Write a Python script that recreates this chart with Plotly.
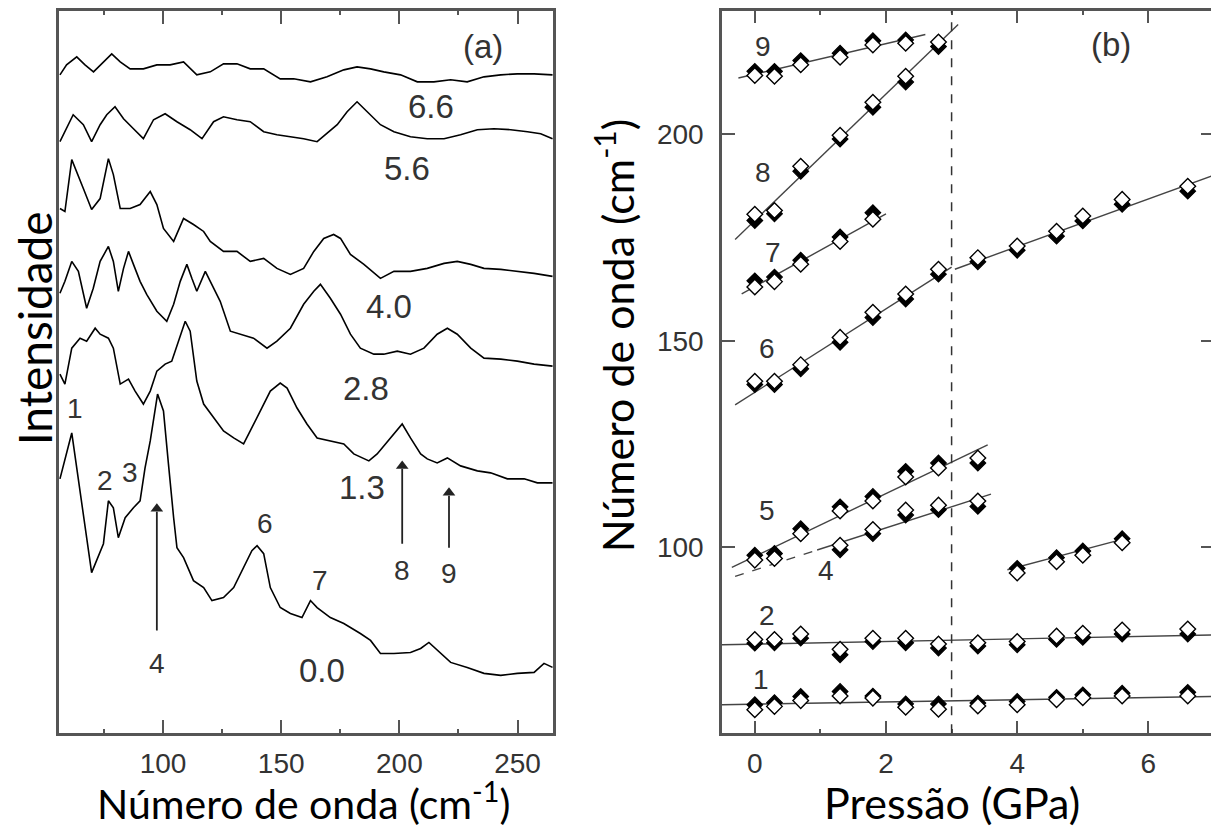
import plotly.graph_objects as go

# ---------------- Panel (a): Raman spectra ----------------
spec_labels = ["0.0", "1.3", "2.8", "4.0", "5.6", "6.6"]

w_00 = [56.4, 61.4, 69.8, 74.8, 76.9, 79.0, 81.1, 84.0, 87.5, 90.3, 92.4, 94.6, 97.7, 100.2, 102.3, 103.0,
        104.5, 105.9, 108.7, 112.9, 117.2, 120.7, 125.6, 129.9, 134.1, 137.6, 139.8, 142.6, 145.4, 149.6,
        153.9, 158.8, 162.4, 165.2, 170.8, 176.5, 183.5, 187.8, 192.0, 197.7, 204.7, 209.0, 212.5, 216.0,
        221.7, 228.7, 235.8, 242.9, 249.9, 257.0, 261.2, 264.8]
i_00 = [255, 301, 161, 190, 233, 226, 196, 216, 226, 233, 266, 293, 340, 323, 270, 250,
        216, 186, 176, 153, 146, 133, 136, 146, 166, 183, 188, 180, 146, 126,
        120, 116, 133, 126, 116, 110, 100, 93, 80, 80, 81, 85, 91, 83,
        71, 66, 60, 58, 60, 61, 70, 66]

w_13 = [56.4, 58.5, 61.4, 64.9, 67.7, 71.3, 73.4, 76.9, 79.0, 81.9, 85.4, 88.2, 91.7, 94.6, 97.4, 100.9,
        103.7, 106.6, 109.4, 111.5, 114.3, 117.2, 121.4, 125.6, 129.9, 134.1, 136.9, 141.2, 145.4, 149.6,
        152.5, 156.7, 160.9, 165.2, 170.8, 176.5, 180.7, 187.1, 190.6, 196.3, 201.2, 204.7, 209.0, 211.8,
        216.0, 220.3, 225.9, 233.0, 238.6, 245.7, 252.8, 258.4, 264.8]
i_13 = [360, 350, 386, 396, 393, 406, 400, 396, 386, 350, 355, 343, 330, 343, 363, 370,
        373, 393, 413, 403, 353, 330, 316, 303, 296, 290, 303, 323, 343, 351,
        346, 326, 310, 296, 293, 290, 280, 273, 280, 296, 310, 296, 280, 275,
        271, 276, 268, 263, 261, 255, 255, 251, 251]

w_28 = [56.4, 58.5, 61.4, 64.2, 67.7, 70.5, 73.4, 76.9, 79.0, 81.1, 83.3, 85.4, 87.5, 90.3, 93.1, 97.4,
        101.6, 104.5, 107.3, 110.1, 112.2, 114.3, 117.9, 120.0, 124.2, 128.5, 132.7, 138.3, 144.0, 148.2,
        153.9, 159.5, 163.8, 166.6, 170.8, 175.1, 179.3, 183.5, 189.2, 193.4, 199.1, 204.7, 210.4, 216.0,
        220.3, 224.5, 230.2, 235.8, 242.9, 249.9, 257.0, 264.8]
i_28 = [441, 453, 473, 463, 426, 446, 473, 488, 473, 443, 466, 483, 470, 453, 440, 423,
        413, 430, 453, 470, 456, 443, 463, 453, 433, 403, 400, 396, 386, 393,
        406, 430, 443, 450, 436, 420, 400, 386, 380, 380, 383, 380, 386, 400,
        406, 400, 386, 376, 375, 373, 370, 368]

w_40 = [56.4, 58.5, 61.4, 63.5, 66.3, 69.8, 73.4, 76.9, 79.0, 81.9, 86.1, 90.3, 94.6, 97.4, 100.2, 104.5,
        108.7, 112.9, 117.2, 120.0, 125.6, 131.3, 136.9, 142.6, 148.2, 153.9, 159.5, 163.8, 168.0, 172.2,
        175.1, 179.3, 185.0, 192.0, 197.7, 204.7, 211.8, 218.9, 224.5, 230.2, 235.8, 242.9, 249.9, 257.0,
        264.8]
i_40 = [526, 523, 575, 563, 546, 525, 536, 576, 560, 526, 526, 530, 543, 530, 506, 493,
        516, 510, 503, 493, 483, 483, 473, 476, 466, 460, 466, 483, 496, 500,
        496, 480, 470, 456, 463, 463, 466, 471, 473, 470, 466, 465, 463, 461,
        458]

w_56 = [56.4, 59.2, 62.0, 66.3, 69.8, 73.4, 76.2, 79.7, 83.3, 87.5, 91.7, 96.0, 100.9, 105.9, 111.5, 116.5,
        121.4, 125.6, 131.3, 136.9, 142.6, 148.2, 153.9, 159.5, 165.2, 169.4, 173.7, 177.9, 182.1, 186.4,
        192.0, 197.7, 204.7, 211.8, 218.9, 225.9, 233.0, 240.0, 247.1, 254.2, 259.8, 264.8]
i_56 = [593, 606, 620, 610, 593, 610, 620, 628, 616, 606, 596, 615, 621, 613, 605, 596,
        613, 618, 615, 613, 603, 600, 598, 596, 593, 601, 610, 623, 633, 623,
        610, 603, 598, 596, 596, 600, 605, 606, 605, 603, 601, 596]

w_66 = [56.4, 59.2, 63.5, 67.0, 70.6, 74.8, 78.3, 81.9, 86.1, 91.7, 97.4, 103.0, 108.7, 114.3, 120.0, 125.6,
        131.3, 136.9, 142.6, 149.6, 155.3, 162.4, 169.4, 176.5, 182.1, 187.8, 193.4, 200.5, 207.6, 214.6,
        221.7, 228.7, 235.8, 242.9, 249.9, 257.0, 264.8]
i_66 = [660, 670, 678, 670, 663, 673, 681, 673, 666, 666, 670, 670, 673, 660, 663, 671,
        671, 666, 666, 656, 656, 653, 658, 665, 668, 666, 663, 660, 653, 653,
        655, 653, 658, 660, 661, 661, 660]

spectra_w = [w_00, w_13, w_28, w_40, w_56, w_66]
spectra_i = [i_00, i_13, i_28, i_40, i_56, i_66]

spec_label_w = [167.3, 184.3, 185.7, 195.5, 203.3, 213.2]
spec_label_i = [63, 246, 346, 428, 566, 628]

peak_text = ["1", "2", "3", "6", "7"]
peak_w = [62.8, 75.5, 86.1, 143.3, 166.6]
peak_i = [326, 253, 261, 210, 153]

arrow_text = ["4", "8", "9"]
arrow_w = [97.4, 201.2, 221.0]
arrow_tail_i = [103, 190, 186]
arrow_head_i = [230, 273, 246]
arrow_label_i = [70, 163, 160]

# ---------------- Panel (b): mode frequencies vs pressure ----------------
P = [0, 0.3, 0.7, 1.3, 1.8, 2.3, 2.8, 3.4, 4.0, 4.6, 5.0, 5.6, 6.6]
P_low = [0, 0.3, 0.7, 1.3, 1.8, 2.3, 2.8]

m1_fill = [61.9, 62.4, 63.9, 65.1, 64.0, 62.1, 62.1, 62.3, 62.7, 63.7, 64.3, 64.7, 64.9]
m1_open = [60.7, 61.5, 62.9, 64.0, 63.5, 61.3, 60.8, 61.6, 61.9, 63.1, 63.6, 64.0, 64.0]
m2_fill = [76.8, 76.9, 78.0, 74.0, 77.2, 76.9, 75.6, 76.1, 76.4, 77.7, 78.2, 79.0, 79.0]
m2_open = [77.7, 77.7, 79.0, 75.3, 78.0, 78.0, 76.6, 76.9, 77.2, 78.5, 79.2, 80.0, 80.2]

P_m4a = [1.3, 1.8, 2.3, 2.8, 3.4]
m4a_fill = [99.4, 103.3, 107.8, 109.1, 109.9]
m4a_open = [100.5, 104.3, 109.0, 110.2, 111.2]
P_m4b = [4.0, 4.6, 5.0, 5.6]
m4b_fill = [94.9, 97.5, 99.1, 102.1]
m4b_open = [93.8, 96.5, 98.1, 101.1]

P_m5 = [0, 0.3, 0.7, 1.3, 1.8, 2.3, 2.8, 3.4]
m5_fill = [98.1, 98.5, 104.5, 109.8, 112.3, 118.4, 120.4, 120.4]
m5_open = [96.9, 97.3, 103.3, 108.8, 111.2, 117.0, 119.2, 121.6]

m6_fill = [139.4, 139.4, 143.2, 149.6, 155.6, 160.1, 166.1, 169.1, 171.9, 175.3, 179.0, 183.0, 186.2]
m6_open = [140.2, 140.2, 144.2, 150.8, 156.9, 161.3, 167.3, 170.1, 172.9, 176.5, 180.2, 184.2, 187.4]

P_m7 = [0, 0.3, 0.7, 1.3, 1.8]
m7_fill = [164.5, 165.4, 169.5, 175.1, 181.0]
m7_open = [163.0, 164.3, 168.5, 174.0, 179.4]

m8_fill = [179.1, 180.7, 191.0, 198.8, 206.5, 212.6, 221.2]
m8_open = [180.6, 181.5, 192.2, 199.7, 207.7, 214.0, 222.3]

P_m9 = [0, 0.3, 0.7, 1.3, 1.8, 2.3]
m9_fill = [215.2, 215.2, 217.8, 219.6, 222.6, 222.8]
m9_open = [214.2, 214.0, 216.8, 218.6, 221.6, 222.0]

# linear fits: start P, end P, intercept, slope, dashed?
fit_start = [-0.5, -0.5, -0.3, 0.95, 3.85, -0.35, -0.3, 3.05, -0.2, -0.3, -0.25]
fit_end = [7.0, 7.0, 0.95, 3.6, 5.7, 3.55, 3.0, 7.0, 2.0, 3.1, 2.6]
fit_icpt = [62.03, 76.56, 94.5, 94.5, 78.4, 97.8, 137.5, 149.7, 163.1, 179.1, 214.5]
fit_slope = [0.267, 0.32, 5.1, 5.1, 4.2, 7.6, 10.1, 5.77, 8.8, 15.3, 3.7]
fit_dash = [False, False, True, False, False, False, False, False, False, False, False]

mode_text = ["1", "2", "4", "5", "6", "7", "8", "9"]
mode_text_P = [0.09, 0.18, 1.09, 0.18, 0.18, 0.27, 0.12, 0.12]
mode_text_w = [67.9, 83.6, 94.5, 109.0, 148.0, 171.3, 190.6, 221.2]

transition_P = 3.0

# ---------------- figure ----------------
# the page body adds an 8 px margin, so the figure is drawn 8 px smaller and shifted
OFF = 8
W, H = 1219 - OFF, 827 - OFF


def fx(px):
    return (px - OFF) / W


def fy(py):
    return 1 - (py - OFF) / H


fig = go.Figure()

for w, i in zip(spectra_w, spectra_i):
    fig.add_trace(go.Scatter(x=w, y=i, mode="lines", line=dict(color="black", width=1.6),
                             xaxis="x", yaxis="y", showlegend=False, hoverinfo="skip"))

# arrows marking modes 4, 8, 9: shaft + arrow head
for x, yt, yh in zip(arrow_w, arrow_tail_i, arrow_head_i):
    fig.add_trace(go.Scatter(x=[x, x], y=[yt, yh - 8], mode="lines", line=dict(color="#222", width=1.8),
                             xaxis="x", yaxis="y", showlegend=False, hoverinfo="skip"))
    fig.add_trace(go.Scatter(x=[x], y=[yh - 5], mode="markers",
                             marker=dict(symbol="triangle-up", size=11, color="#222"),
                             xaxis="x", yaxis="y", showlegend=False, hoverinfo="skip"))

for s, e, b, m, d in zip(fit_start, fit_end, fit_icpt, fit_slope, fit_dash):
    fig.add_trace(go.Scatter(x=[s, e], y=[b + m * s, b + m * e], mode="lines",
                             line=dict(color="#444", width=1.4, dash="dash" if d else "solid"),
                             xaxis="x2", yaxis="y2", showlegend=False, hoverinfo="skip"))

groups = [(P, m1_fill, m1_open), (P, m2_fill, m2_open), (P_m4a, m4a_fill, m4a_open),
          (P_m4b, m4b_fill, m4b_open), (P_m5, m5_fill, m5_open), (P, m6_fill, m6_open),
          (P_m7, m7_fill, m7_open), (P_low, m8_fill, m8_open), (P_m9, m9_fill, m9_open)]
for px, fv, ov in groups:
    fig.add_trace(go.Scatter(x=px, y=fv, mode="markers",
                             marker=dict(symbol="diamond", size=12, color="black",
                                         line=dict(color="black", width=1.2)),
                             xaxis="x2", yaxis="y2", showlegend=False))
for px, fv, ov in groups:
    fig.add_trace(go.Scatter(x=px, y=ov, mode="markers",
                             marker=dict(symbol="diamond", size=12, color="white",
                                         line=dict(color="black", width=1.4)),
                             xaxis="x2", yaxis="y2", showlegend=False))

tickfont = dict(family="Liberation Sans, Arial", size=28, color="#333")
axcol = "#555"
fig.update_layout(
    width=W, height=H, margin=dict(l=0, r=0, t=0, b=0),
    paper_bgcolor="white", plot_bgcolor="white",
    xaxis=dict(domain=[fx(59), fx(553)], range=[56, 265], tickvals=[100, 150, 200, 250],
               ticks="inside", ticklen=13, tickwidth=2, tickcolor=axcol,
               minor=dict(tickvals=[75, 125, 175, 225], ticks="inside", ticklen=4, tickcolor=axcol, tickwidth=1.5),
               showline=True, linecolor=axcol, linewidth=2.5, mirror="ticks",
               showgrid=False, zeroline=False, tickfont=tickfont, ticklabelstandoff=3),
    yaxis=dict(domain=[fy(733), fy(9)], range=[0, 724], showticklabels=False, ticks="",
               showline=True, linecolor=axcol, linewidth=2.5, mirror=True,
               showgrid=False, zeroline=False),
    xaxis2=dict(domain=[fx(722), fx(1214)], range=[-0.5, 7.0], anchor="y2", tickvals=[0, 2, 4, 6],
                ticks="inside", ticklen=12, tickwidth=2, tickcolor=axcol,
                minor=dict(tickvals=[1, 3, 5], ticks="inside", ticklen=4, tickcolor=axcol, tickwidth=1.5),
                showline=True, linecolor=axcol, linewidth=2.5, mirror="ticks",
                showgrid=False, zeroline=False, tickfont=tickfont, ticklabelstandoff=3),
    yaxis2=dict(domain=[fy(733), fy(9)], range=[55, 229.8], anchor="x2",
                tickvals=[100, 150, 200], ticks="inside", ticklen=13, tickwidth=2, tickcolor=axcol,
                showline=True, linecolor=axcol, linewidth=2.5, mirror="ticks",
                showgrid=False, zeroline=False, tickfont=tickfont, ticklabelstandoff=10),
)

fig.add_shape(type="line", xref="x2", yref="y2 domain", x0=transition_P, x1=transition_P, y0=0, y1=1,
              line=dict(color="#333", width=1.5, dash="dash"))

ann = []
labfont = dict(family="Liberation Sans, Arial", size=33, color="#333")
pkfont = dict(family="Liberation Sans, Arial", size=28, color="#333")
for t, x, y in zip(spec_labels, spec_label_w, spec_label_i):
    ann.append(dict(x=x, y=y, xref="x", yref="y", text=t, showarrow=False, font=labfont))
for t, x, y in zip(peak_text, peak_w, peak_i):
    ann.append(dict(x=x, y=y, xref="x", yref="y", text=t, showarrow=False, font=pkfont))
for t, x, yl in zip(arrow_text, arrow_w, arrow_label_i):
    ann.append(dict(x=x, y=yl, xref="x", yref="y", text=t, showarrow=False, font=pkfont))
ann.append(dict(x=235.2, y=688, xref="x", yref="y", text="(a)", showarrow=False, font=labfont))
for t, x, y in zip(mode_text, mode_text_P, mode_text_w):
    ann.append(dict(x=x, y=y, xref="x2", yref="y2", text=t, showarrow=False, font=pkfont))
ann.append(dict(x=5.43, y=221.6, xref="x2", yref="y2", text="(b)", showarrow=False, font=labfont))

titlefont = dict(family="Lato, Open Sans", size=41, color="black")
ann.append(dict(x=fx(303), y=fy(801), xref="paper", yref="paper", text="Número de onda (cm<sup>-1</sup>)",
                showarrow=False, font=titlefont, xanchor="center", yanchor="middle"))
ann.append(dict(x=fx(952), y=fy(802), xref="paper", yref="paper", text="Pressão (GPa)",
                showarrow=False, font=dict(family="Lato, Open Sans", size=43, color="black"),
                xanchor="center", yanchor="middle"))
ann.append(dict(x=fx(34), y=fy(327), xref="paper", yref="paper", text="Intensidade",
                showarrow=False, font=dict(family="Lato, Open Sans", size=46, color="black"),
                textangle=-90, xanchor="center", yanchor="middle"))
ann.append(dict(x=fx(614), y=fy(334), xref="paper", yref="paper", text="Número de onda (cm<sup>-1</sup>)",
                showarrow=False, font=dict(family="Lato, Open Sans", size=43, color="black"),
                textangle=-90, xanchor="center", yanchor="middle"))
fig.update_layout(annotations=ann)

fig.write_html("out.html")
